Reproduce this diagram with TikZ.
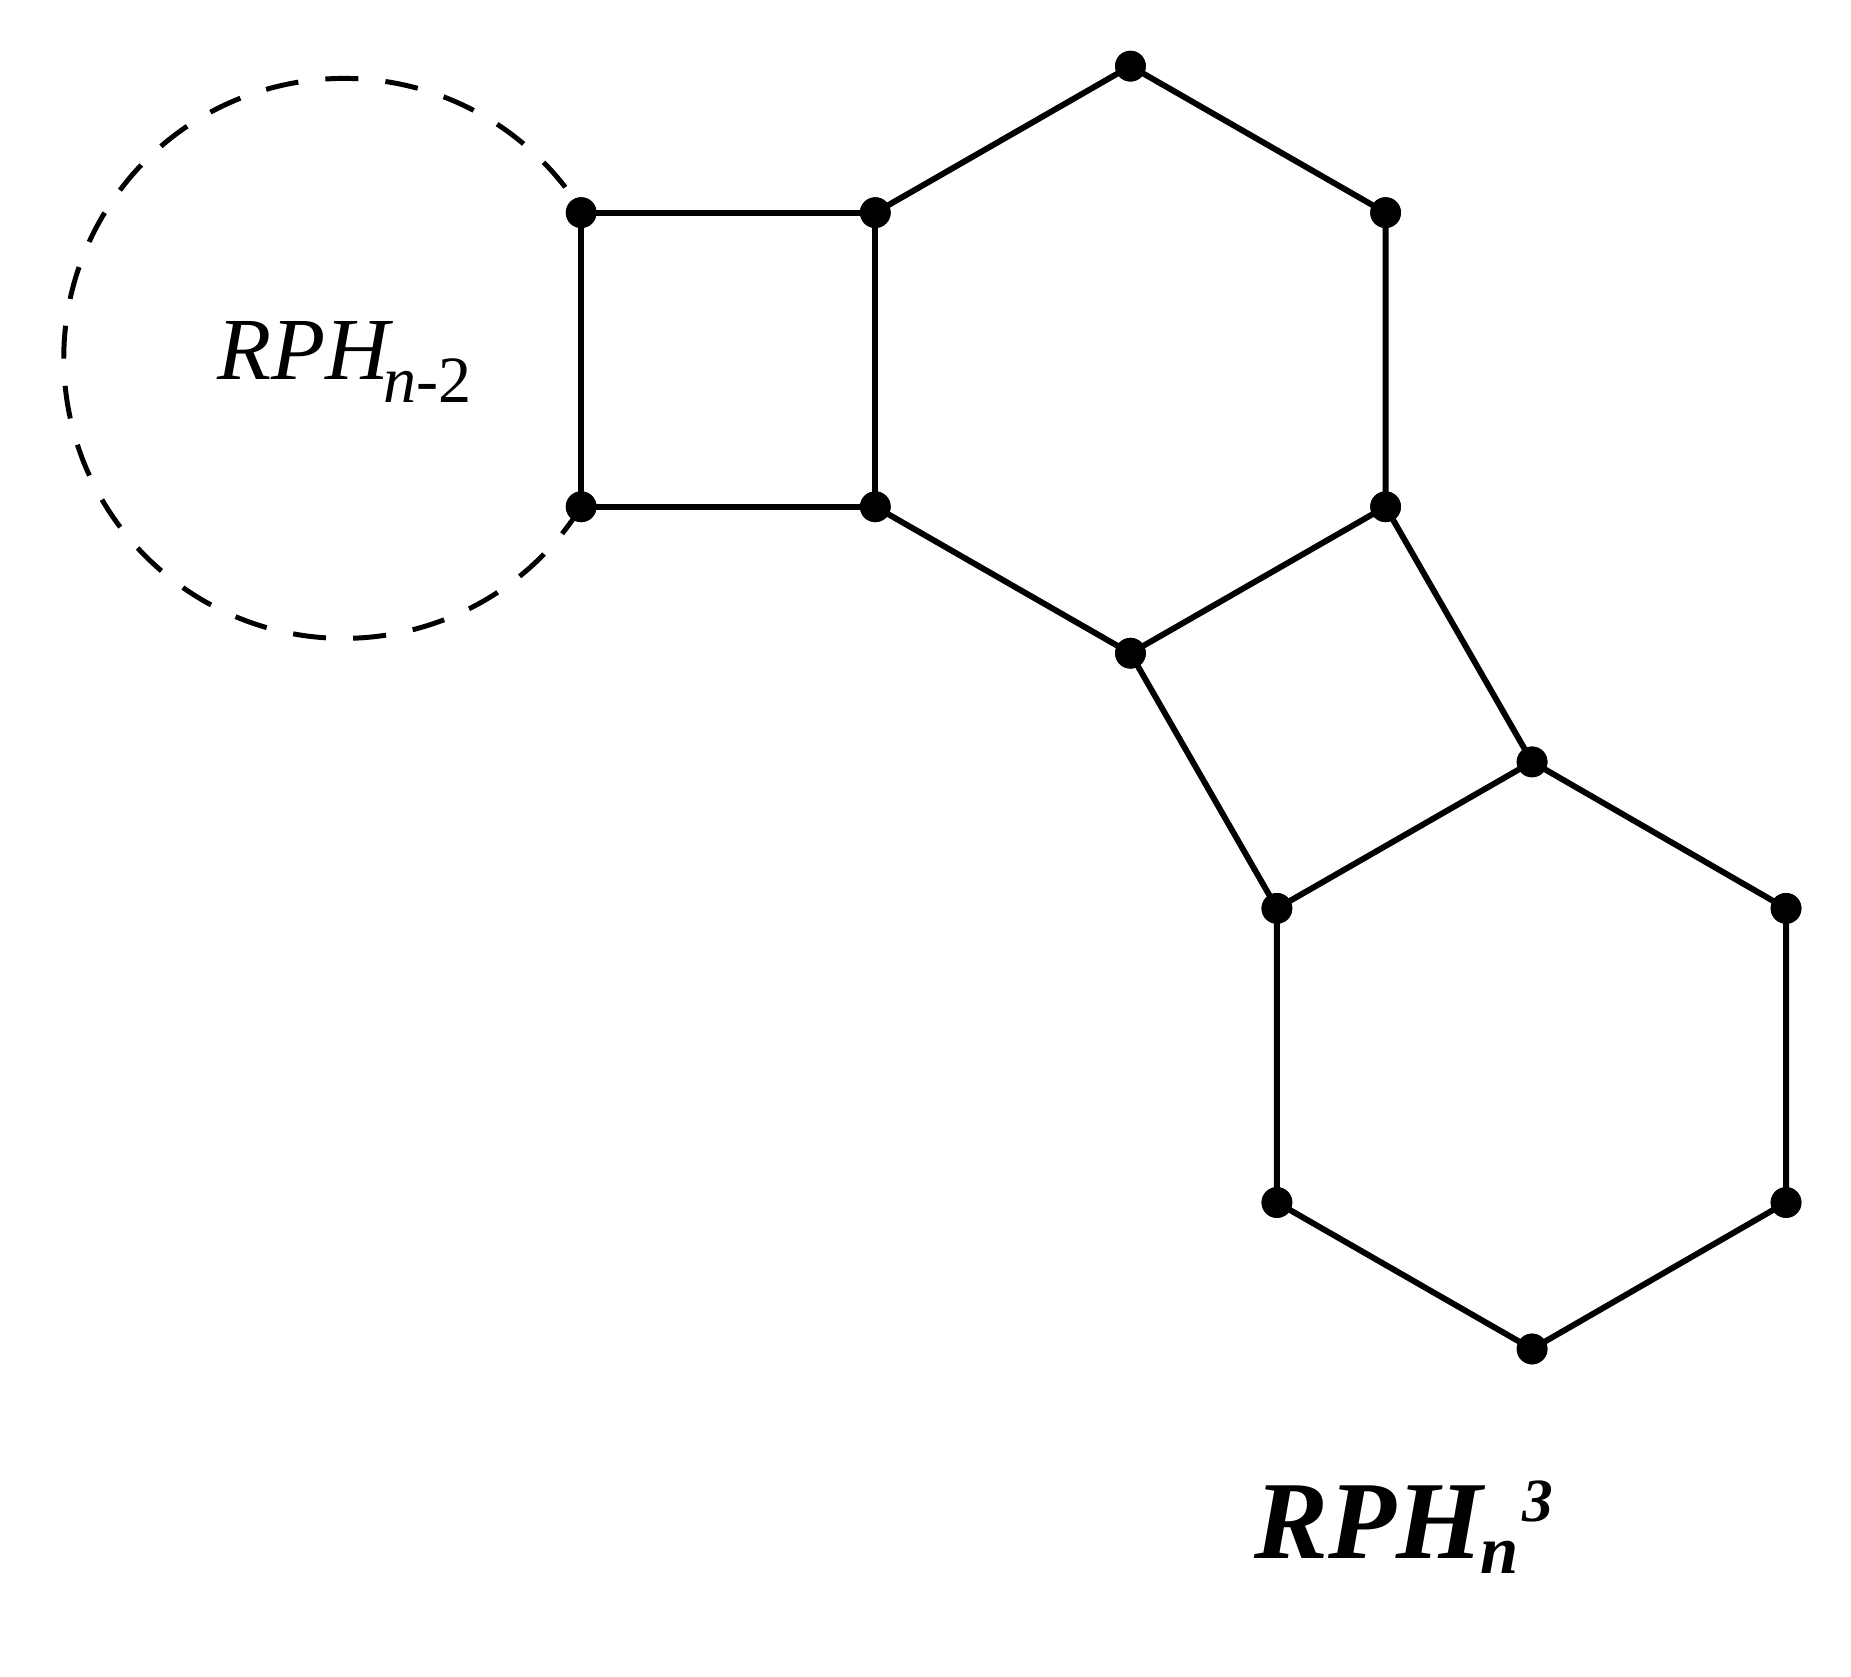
\documentclass[tikz,border=0pt]{standalone}
\usepackage{fontspec}
\setmainfont{Liberation Serif}
\begin{document}
\begin{tikzpicture}[x=1pt,y=-1pt,
  vtx/.style={circle,fill=black,inner sep=0pt,minimum size=26pt},
  edge/.style={line width=5pt},
  dashedarc/.style={line width=4.2pt,dash pattern=on 28pt off 23pt}]
\useasboundingbox (0,0) rectangle (1567,1419);
% vertices
\node[vtx] (A) at (492,180) {};
\node[vtx] (B) at (741,180) {};
\node[vtx] (C) at (957,56) {};
\node[vtx] (D) at (1173,180) {};
\node[vtx] (E) at (1173,429) {};
\node[vtx] (F) at (957,553) {};
\node[vtx] (G) at (741,429) {};
\node[vtx] (H) at (492,429) {};
\node[vtx] (I) at (1297,645) {};
\node[vtx] (J) at (1512,769) {};
\node[vtx] (K) at (1512,1018) {};
\node[vtx] (L) at (1297,1142) {};
\node[vtx] (M) at (1081,1018) {};
\node[vtx] (N) at (1081,769) {};
% edges
\draw[edge] (A.center) -- (B.center) -- (G.center) -- (H.center) -- cycle;
\draw[edge] (B.center) -- (C.center) -- (D.center) -- (E.center) -- (F.center) -- (G.center);
\draw[edge] (E.center) -- (I.center) -- (N.center) -- (F.center);
\draw[edge] (I.center) -- (J.center) -- (K.center) -- (L.center) -- (M.center) -- (N.center);
% redraw vertex dots on top
\foreach \v in {A,B,C,D,E,F,G,H,I,J,K,L,M,N} \fill (\v) circle[radius=13pt];
% dashed circle arc through H and A
\draw[dashedarc] (H.center) arc[start angle=32, end angle=328, radius=237];
% labels
\node[anchor=base west,inner sep=0pt] (lab1) at (184,321)
  {\fontsize{75}{75}\selectfont\itshape RPH\kern-5pt\raisebox{-20pt}{\fontsize{56}{56}\selectfont n\upshape -2}};
\node[anchor=base west,inner sep=0pt] (lab2) at (1062,1319)
  {\fontsize{94}{94}\selectfont\bfseries\itshape RPH\kern-2pt\raisebox{-13pt}{\fontsize{58}{58}\selectfont n}\kern3pt\raisebox{31pt}{\fontsize{52}{52}\selectfont 3}};
\end{tikzpicture}
\end{document}
